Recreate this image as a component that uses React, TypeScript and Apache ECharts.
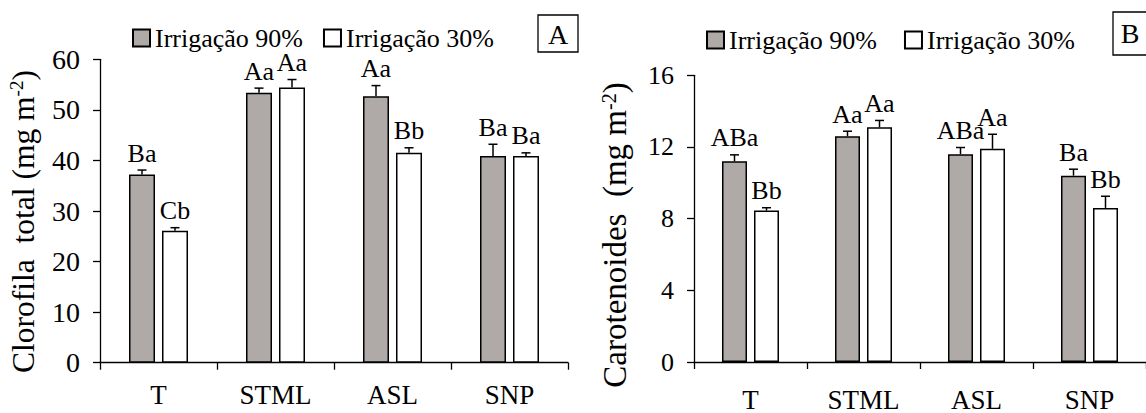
import React, { useEffect, useRef } from 'react';
import * as echarts from 'echarts';

const categories = ['T', 'STML', 'ASL', 'SNP'];
const seriesNames = ['Irrigação 90%', 'Irrigação 30%'];

// Panel A: Clorofila total (mg m-2)
const chl90 = [37.2, 53.4, 52.7, 40.9];
const chl90Err = [0.9, 0.9, 2.1, 2.3];
const chl30 = [26.1, 54.4, 41.5, 40.9];
const chl30Err = [0.6, 1.6, 1.0, 0.6];
const chlLetters90 = ['Ba', 'Aa', 'Aa', 'Ba'];
const chlLetters30 = ['Cb', 'Aa', 'Bb', 'Ba'];

// Panel B: Carotenoides (mg m-2)
const car90 = [11.2, 12.6, 11.6, 10.4];
const car90Err = [0.36, 0.28, 0.37, 0.36];
const car30 = [8.45, 13.1, 11.9, 8.6];
const car30Err = [0.16, 0.38, 0.81, 0.65];
const carLetters90 = ['ABa', 'Aa', 'ABa', 'Ba'];
const carLetters30 = ['Bb', 'Aa', 'Aa', 'Bb'];

const FONT = 'Liberation Serif';
const GRAY = '#afaaa8';
const GAP = 7;

function barSeries(grid: number, name: string, values: number[], color: string, barWidth: number) {
  return {
    type: 'bar',
    name,
    xAxisIndex: grid,
    yAxisIndex: grid,
    data: values,
    barWidth,
    barGap: `${(GAP / barWidth) * 100}%`,
    itemStyle: { color, borderColor: '#000', borderWidth: 1.5 },
    silent: true,
  };
}

function errorSeries(grid: number, values: number[], errs: number[], letters: string[], offset: number) {
  return {
    type: 'custom',
    xAxisIndex: grid,
    yAxisIndex: grid,
    data: values.map((v, i) => [i, v, errs[i]]),
    silent: true,
    z: 10,
    renderItem: (params: any, api: any) => {
      const i = api.value(0);
      const v = api.value(1);
      const e = api.value(2);
      const base = api.coord([i, v]);
      const top = api.coord([i, v + e]);
      const x = base[0] + offset;
      return {
        type: 'group',
        children: [
          { type: 'line', shape: { x1: x, y1: base[1], x2: x, y2: top[1] }, style: { stroke: '#000', lineWidth: 1.5 } },
          { type: 'line', shape: { x1: x - 4.5, y1: top[1], x2: x + 4.5, y2: top[1] }, style: { stroke: '#000', lineWidth: 1.5 } },
          {
            type: 'text',
            x,
            y: top[1] - 17,
            style: {
              text: letters[params.dataIndex],
              fill: '#000',
              fontSize: 26,
              fontFamily: FONT,
              align: 'center',
              verticalAlign: 'middle',
            },
          },
        ],
      };
    },
  };
}

function yAxis(grid: number, max: number, interval: number, fontSize: number) {
  return {
    gridIndex: grid,
    type: 'value',
    min: 0,
    max,
    interval,
    axisLine: { show: true, lineStyle: { color: '#000', width: 1.3 } },
    axisTick: { show: true, length: 7, lineStyle: { color: '#000', width: 1.3 } },
    splitLine: { show: false },
    axisLabel: { fontSize, fontFamily: FONT, color: '#000', margin: 20 },
  };
}

function xAxis(grid: number, margin: number) {
  return {
    gridIndex: grid,
    type: 'category',
    data: categories,
    axisLine: { show: true, lineStyle: { color: '#000', width: 1.3 } },
    axisTick: { show: true, length: 7, lineStyle: { color: '#000', width: 1.3 } },
    axisLabel: { fontSize: 27, fontFamily: FONT, color: '#000', margin },
  };
}

function legend(left: number, top: number, itemGap: number) {
  return {
    left,
    top,
    padding: 0,
    itemGap,
    itemWidth: 17,
    itemHeight: 17,
    icon: 'rect',
    selectedMode: false,
    data: seriesNames,
    textStyle: { fontSize: 26, fontFamily: FONT, color: '#000' },
  };
}

export default function App() {
  const ref = useRef<HTMLDivElement>(null);
  useEffect(() => {
    if (!ref.current) return;
    const chart = echarts.init(ref.current, undefined, { renderer: 'svg' });
    const option: any = {
      animation: false,
      backgroundColor: '#fff',
      textStyle: { fontFamily: FONT },
      grid: [
        { left: 100, top: 59.3, width: 468, height: 303.4 },
        { left: 694, top: 75.3, width: 463.6, height: 296 },
      ],
      legend: [legend(132, 25, 20), legend(706, 27, 27)],
      xAxis: [xAxis(0, 19), xAxis(1, 24)],
      yAxis: [yAxis(0, 60, 10, 28), yAxis(1, 16, 4, 26)],
      series: [
        barSeries(0, seriesNames[0], chl90, GRAY, 26),
        barSeries(0, seriesNames[1], chl30, '#fff', 26),
        barSeries(1, seriesNames[0], car90, GRAY, 25),
        barSeries(1, seriesNames[1], car30, '#fff', 25),
        errorSeries(0, chl90, chl90Err, chlLetters90, -16.5),
        errorSeries(0, chl30, chl30Err, chlLetters30, 16.5),
        errorSeries(1, car90, car90Err, carLetters90, -16),
        errorSeries(1, car30, car30Err, carLetters30, 16),
      ],
      graphic: [
        { type: 'rect', shape: { x: 538, y: 15, width: 40, height: 37 }, style: { fill: '#fff', stroke: '#000', lineWidth: 1.3 } },
        { type: 'text', x: 558, y: 34, style: { text: 'A', fontSize: 28, fontFamily: FONT, fill: '#000', align: 'center', verticalAlign: 'middle' } },
        { type: 'rect', shape: { x: 1113, y: 12, width: 45, height: 43 }, style: { fill: '#fff', stroke: '#000', lineWidth: 1.3 } },
        { type: 'text', x: 1130, y: 33, style: { text: 'B', fontSize: 28, fontFamily: FONT, fill: '#000', align: 'center', verticalAlign: 'middle' } },
        {
          type: 'text',
          x: 23,
          y: 221.5,
          rotation: Math.PI / 2,
          style: {
            text: 'Clorofila  total (mg m{sup|-2})',
            fontSize: 31.5,
            fontFamily: FONT,
            fill: '#000',
            align: 'center',
            verticalAlign: 'middle',
            rich: { sup: { fontSize: 19, fontFamily: FONT, fill: '#000', verticalAlign: 'top' } },
          },
        },
        {
          type: 'text',
          x: 615,
          y: 235,
          rotation: Math.PI / 2,
          style: {
            text: 'Carotenoides  (mg m{sup|-2})',
            fontSize: 33,
            fontFamily: FONT,
            fill: '#000',
            align: 'center',
            verticalAlign: 'middle',
            rich: { sup: { fontSize: 20, fontFamily: FONT, fill: '#000', verticalAlign: 'top' } },
          },
        },
      ],
    };
    chart.setOption(option);
    return () => chart.dispose();
  }, []);
  return <div ref={ref} style={{ position: 'fixed', left: 0, top: 0, width: 1146, height: 413, background: '#fff' }} />;
}
